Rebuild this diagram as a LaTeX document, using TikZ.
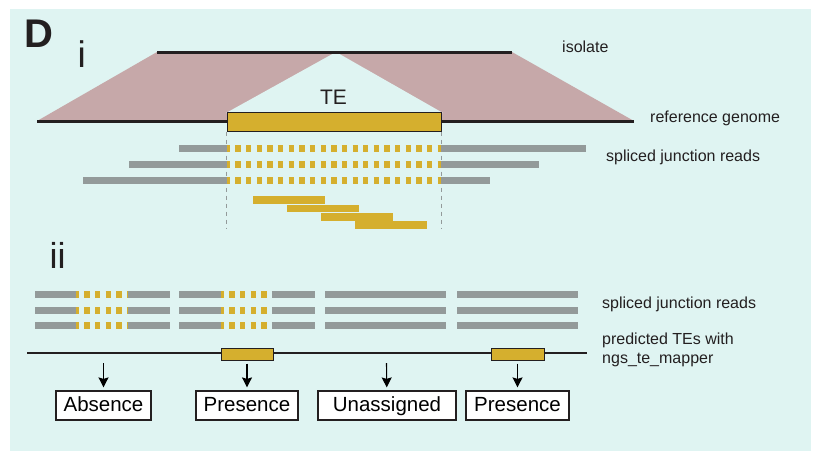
\documentclass[tikz,border=0pt]{standalone}
\usepackage{fontspec}
\setmainfont{Liberation Sans}
\usetikzlibrary{arrows.meta}
\definecolor{panelbg}{HTML}{DFF4F2}
\definecolor{alignpink}{HTML}{C6A8A9}
\definecolor{tegold}{HTML}{D5AF2E}
\definecolor{readgrey}{HTML}{939A9A}
\definecolor{inkline}{HTML}{231F20}
\tikzset{
  read/.style={line width=7pt, draw=readgrey},
  teread/.style={line width=7pt, draw=tegold, dash pattern=on 5.3pt off 5.35pt, dash phase=2.3pt},
  genome/.style={line width=3pt, draw=inkline},
  tebox/.style={draw=inkline, fill=tegold, line width=1pt},
  sidetext/.style={anchor=base west, inner sep=0pt, text=inkline, font=\fontsize{16}{19}\selectfont, align=left},
  outcome/.style={draw=inkline, fill=white, line width=1.2pt, minimum height=29pt, inner xsep=7pt,
    text height=15pt, text depth=4pt, font=\fontsize{20.5}{24}\selectfont},
  callarrow/.style={-{Stealth[length=10pt,width=10pt,inset=1.5pt]}, line width=1.1pt, draw=black},
}

\begin{document}
\begin{tikzpicture}[x=1pt, y=-1pt]
            \useasboundingbox (0,0) rectangle (821,451);
            \fill[panelbg] (10,9) rectangle (811,451);
            % panel letters
            \node[anchor=base west, inner sep=0pt, font=\fontsize{40}{40}\selectfont\bfseries, text=inkline] (panelD) at (24,47) {D};
            \node[anchor=base west, inner sep=0pt, font=\fontsize{37}{37}\selectfont, text=inkline] (parti) at (77.5,67) {i};
            \node[anchor=base west, inner sep=0pt, font=\fontsize{36}{36}\selectfont, text=inkline] (partii) at (49.5,268) {ii};

            % (i) alignment of isolate to reference
            \fill[alignpink] (157,52) -- (512,52) -- (634,121) -- (37,121) -- cycle;
            \fill[panelbg] (336,52) -- (443,113) -- (226,113) -- cycle;
            \draw[genome] (157,52) -- (512,52);
            \draw[genome] (37,121) -- (634,121);
            \node[tebox, minimum width=214pt, minimum height=19pt, inner sep=0pt] (teref) at (334,121.5) {};
            \node[anchor=base, inner sep=0pt, font=\fontsize{21}{21}\selectfont, text=inkline] (telabel) at (333.5,104) {TE};
            \draw[readgrey, line width=0.8pt, dash pattern=on 4pt off 4pt] (teref.south west) -- ++(0,97);
            \draw[readgrey, line width=0.8pt, dash pattern=on 4pt off 4pt] (teref.south east) -- ++(0,97);
            \foreach \y/\l/\r in {148/179/586, 164/129/539, 180/83/490} {
              \draw[read] (\l,\y) -- (227,\y);
              \draw[read] (441,\y) -- (\r,\y);
              \draw[teread] (227,\y) -- (441,\y);
            }
            \foreach \i in {0,...,3}
              \draw[tegold, line width=7.5pt] (253+34*\i,200+8.4*\i) -- ++(72,0);
            \node[sidetext] (isolate) at (562,52) {isolate};
            \node[sidetext] (refgenome) at (650,122) {reference genome};
            \node[sidetext] (readsi) at (606,161) {spliced junction reads};

            % (ii) calls from junction reads
            \foreach \y in {294,310,325} {
              \draw[read] (35,\y) -- (76,\y);
              \draw[teread] (76,\y) -- (128,\y);
              \draw[read] (128,\y) -- (170,\y);
              \draw[read] (179,\y) -- (221,\y);
              \draw[teread] (221,\y) -- (272,\y);
              \draw[read] (272,\y) -- (315,\y);
              \draw[read] (325,\y) -- (446,\y);
              \draw[read] (457,\y) -- (578,\y);
            }
            \draw[inkline, line width=1.5pt] (27,353) -- (587,353);
            \node[tebox, minimum width=52pt, minimum height=12pt, inner sep=0pt] (tecallA) at (247,354) {};
            \node[tebox, minimum width=53pt, minimum height=12pt, inner sep=0pt] (tecallB) at (517.5,354) {};
            \coordinate (callabs) at (103.5,363);
            \coordinate (callun) at (386.5,363);

            \node[outcome, minimum width=95pt] (absence) at (103.5,405.5) {Absence};
            \node[outcome, minimum width=102pt] (presA) at (247,405.5) {Presence};
            \node[outcome, minimum width=138pt] (unassigned) at (387,405.5) {Unassigned};
            \node[outcome, minimum width=103pt] (presB) at (517.5,405.5) {Presence};

            \draw[callarrow, shorten >=3pt] (callabs) -- (absence);
            \draw[callarrow, shorten <=3pt, shorten >=3pt] (tecallA) -- (presA);
            \draw[callarrow, shorten >=3pt] (callun) -- (unassigned);
            \draw[callarrow, shorten <=3pt, shorten >=3pt] (tecallB) -- (presB);

            \node[sidetext] (readsii) at (602,308) {spliced junction reads};
            \node[sidetext] (predicted) at (602,363) {predicted TEs with\\ngs\_te\_mapper};
        \end{tikzpicture}
\end{document}
